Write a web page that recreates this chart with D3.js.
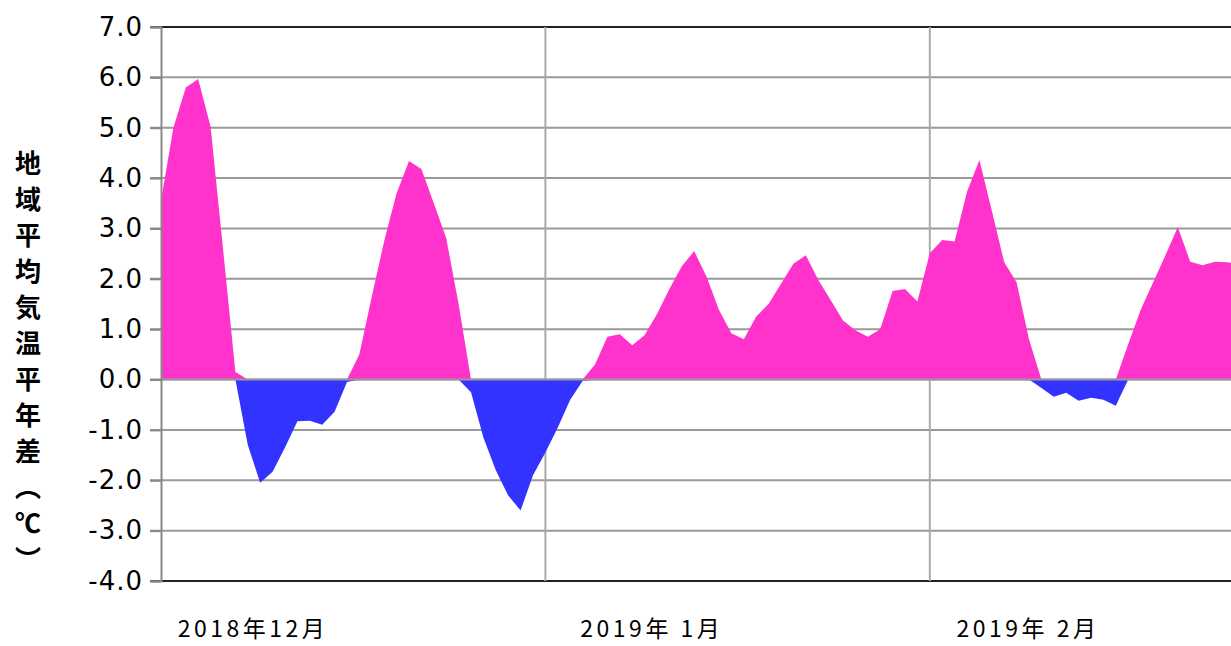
<!DOCTYPE html>
<html>
<head>
<meta charset="utf-8">
<script src="https://cdn.jsdelivr.net/npm/d3@7"></script>
<style>
  body { margin: 0; background: #fff; }
  svg { display: block; }
</style>
</head>
<body>
<div id="chart"></div>
<script>
// 日別の地域平均気温平年差（2018年12月1日～）
const startDate = "2018-12-01";
const decValues = [3.55, 5.0, 5.8, 5.97, 5.02, 2.6, 0.15, -1.3, -2.05, -1.83, -1.35, -0.83, -0.82, -0.9, -0.64, -0.05,
  0.5, 1.65, 2.75, 3.7, 4.34, 4.18, 3.5, 2.81, 1.5, -0.25, -1.15, -1.8, -2.3, -2.6, -1.9];
const janValues = [-1.45, -0.95, -0.4, -0.03, 0.3, 0.85, 0.9, 0.68, 0.88, 1.3, 1.8, 2.25, 2.55, 2.04, 1.38, 0.92,
  0.8, 1.25, 1.5, 1.9, 2.3, 2.47, 1.98, 1.58, 1.17, 0.98, 0.85, 1.0, 1.76, 1.8, 1.55];
const febValues = [2.51, 2.77, 2.74, 3.73, 4.36, 3.35, 2.33, 1.93, 0.8, -0.17, -0.34, -0.26, -0.42, -0.36, -0.4, -0.52,
  0.7, 1.38, 1.92, 2.47, 3.03, 2.34, 2.27, 2.34, 2.33, 2.3];

const yTicks = [-4, -3, -2, -1, 0, 1, 2, 3, 4, 5, 6, 7];
const monthStarts = ["2018-12-01", "2019-01-01", "2019-02-01", "2019-03-01"];
const monthLabels = ["2018年12月", "2019年 1月", "2019年 2月"];
const labelAnchors = ["2018-12-08T10:00", "2019-01-09T14:00", "2019-02-08T22:00"];
const yTitle = "地域平均気温平年差（℃）";

const parse = d3.isoParse;
const allValues = decValues.concat(janValues, febValues);
const data = allValues.map((v, i) => ({ date: d3.timeDay.offset(parse(startDate), i), v }));

const width = 1231, height = 646;
const margin = { top: 27, left: 161, bottom: 65 };

const svg = d3.select("#chart").append("svg")
  .attr("width", width)
  .attr("height", height);

const x = d3.scaleTime()
  .domain([parse(monthStarts[0]), parse(monthStarts[3])])
  .range([margin.left, margin.left + 90 * 12.4]);

const y = d3.scaleLinear()
  .domain([-4, 7])
  .range([height - margin.bottom, margin.top]);

// 横グリッド
svg.append("g")
  .selectAll("line")
  .data(yTicks)
  .join("line")
  .attr("x1", margin.left - 11)
  .attr("x2", width)
  .attr("y1", d => y(d))
  .attr("y2", d => y(d))
  .attr("stroke", d => (d === 7 || d === -4) ? "#222" : "#999")
  .attr("stroke-width", 2);

// 縦グリッド（月の区切り）
svg.append("g")
  .selectAll("line")
  .data(monthStarts.slice(1, 3))
  .join("line")
  .attr("x1", d => x(parse(d)))
  .attr("x2", d => x(parse(d)))
  .attr("y1", y(7))
  .attr("y2", y(-4))
  .attr("stroke", "#aaa")
  .attr("stroke-width", 2);

// 正と負を別系列で塗る
const posArea = d3.area()
  .x(d => x(d.date))
  .y0(y(0))
  .y1(d => y(Math.max(d.v, 0)));
const negArea = d3.area()
  .x(d => x(d.date))
  .y0(y(0))
  .y1(d => y(Math.min(d.v, 0)));

svg.append("path").datum(data)
  .attr("d", posArea)
  .attr("fill", "#ff33cc");
svg.append("path").datum(data)
  .attr("d", negArea)
  .attr("fill", "#3333ff");

// 0線
svg.append("line")
  .attr("x1", margin.left).attr("x2", width)
  .attr("y1", y(0)).attr("y2", y(0))
  .attr("stroke", "#999").attr("stroke-width", 2);

// 縦軸
const yAxis = svg.append("g")
  .attr("transform", `translate(${margin.left},0)`)
  .call(d3.axisLeft(y).tickValues(yTicks).tickFormat(d => d.toFixed(1)).tickSize(11).tickPadding(7));
yAxis.select(".domain").attr("stroke", "#888").attr("stroke-width", 2);
yAxis.selectAll(".tick line").attr("stroke", "#888").attr("stroke-width", 2);
yAxis.selectAll(".tick text")
  .attr("fill", "#000")
  .style("font-family", "'DejaVu Sans', sans-serif")
  .style("font-size", "26px")
  .style("letter-spacing", "1px");

// 月ラベル
svg.append("g")
  .selectAll("text")
  .data(monthLabels)
  .join("text")
  .attr("x", (d, i) => x(parse(labelAnchors[i])))
  .attr("y", 637)
  .attr("text-anchor", "middle")
  .style("font-family", "'Noto Sans CJK JP', sans-serif")
  .style("font-size", "23px")
  .style("letter-spacing", "3.5px")
  .text(d => d);

// 縦書きの軸タイトル
svg.append("text")
  .attr("x", 28)
  .attr("y", 150)
  .style("writing-mode", "vertical-rl")
  .style("font-family", "'Noto Sans CJK JP', sans-serif")
  .style("font-weight", "bold")
  .style("font-size", "26px")
  .style("letter-spacing", "10px")
  .text(yTitle);
</script>
</body>
</html>
